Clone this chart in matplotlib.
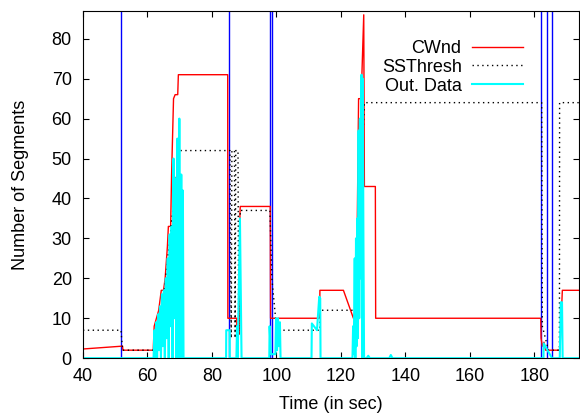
import matplotlib
matplotlib.use('Agg')
import matplotlib.pyplot as plt

# congestion window (segments) vs time (s)
cwnd_t = [40, 52, 52.3, 52.4, 61.8, 62.1, 63.5, 64.3, 65, 65.5, 66.2, 66.5, 67.2, 67.5,
          68.1, 68.6, 69.4, 69.6, 84.9, 84.95, 87.7, 87.8, 88.5, 88.7, 88.8, 98.1, 98.2,
          99.8, 100.1, 100.5, 113.4, 113.5, 120.8, 123.9, 124.5, 125, 125.5, 126.3,
          127.1, 127.3, 130.7, 130.8, 182, 182.1, 182.5, 183, 183.5, 187.8, 188, 188.7, 195]
cwnd_v = [2.3, 3.0, 3, 2, 2, 8, 12, 17, 17, 20, 28, 33, 33, 46,
          65, 66, 66, 71, 71, 10, 10, 6, 6, 36, 38, 38, 10,
          10, 7, 10, 10, 17, 17, 10, 12, 27, 65, 65,
          86, 43, 43, 10, 10, 5, 3, 4, 2, 2, 3, 17, 17]

ssth_t = [40, 51.8, 52.3, 61.8, 64.5, 69.3, 69.8, 85.6, 86.0, 86.2, 87.0, 87.2, 87.4,
          88.1, 88.3, 88.8, 98.0, 98.6, 100.1, 113.5, 113.6, 123.9, 124.5, 127.3,
          182.3, 182.5, 184.4, 187.8, 187.85, 195]
ssth_v = [7, 7, 2, 2, 11, 48, 52, 52, 5, 52, 52, 5, 52,
          52, 6, 37, 37, 20, 7, 7, 12, 12, 12, 64,
          64, 8, 2, 2, 64, 64]

# outstanding data, one row per burst
out_t = [40, 61.9,
         62.2, 62.4, 62.7, 63.0, 63.3, 63.6, 63.9, 64.2, 64.5, 64.8, 65.1, 65.4,
         65.7, 66.0, 66.3, 66.6, 66.9, 67.2, 67.5, 67.8, 68.1, 68.4, 68.7, 69.0,
         69.3, 69.6, 69.9, 70.2, 70.5, 70.8, 71.0, 71.2,
         84.4, 84.45, 85.5, 85.55,
         87.6, 87.8, 88.0, 88.7, 89.2,
         97.8, 97.9, 98.3, 98.5, 99.7, 99.9, 100.2, 100.5, 100.8, 101.1, 101.3,
         110.9, 111.0, 112.6, 113.3, 113.6, 113.7,
         123.6, 123.8, 124.0, 124.3, 124.5, 124.7, 124.9, 125.1, 125.3, 125.5,
         125.7, 125.9, 126.1, 126.4, 126.6, 126.8, 127.0, 127.2,
         128, 128.5, 129, 135, 135.5, 136,
         182.85, 182.9, 185.5,
         187.9, 188.2, 188.6, 188.8, 195]
out_v = [0, 0,
         7, 0, 9, 0, 11, 2, 13, 0, 16, 3, 17, 0,
         20, 5, 25, 0, 31, 8, 33, 0, 50, 10, 45, 0,
         55, 0, 60, 0, 46, 0, 42, 0,
         0, 7, 7, 0,
         0, 8, 0, 35, 0,
         0, 8, 1, 1, 1, 10, 2, 10, 3, 9, 0,
         0, 8.7, 7, 15.4, 15, 0,
         0, 8, 1, 25, 0, 30, 3, 35, 5, 57,
         10, 60, 20, 71, 0, 70, 30, 0,
         0, 0.6, 0, 0, 0.8, 0,
         0, 3.7, 0,
         0, 14, 14, 0, 0]

# retransmission timeout events
events = [51.8, 85.4, 98.0, 98.5, 182.1, 183.8, 185.5]

plt.rcParams['font.family'] = ['Liberation Sans', 'DejaVu Sans']
plt.rcParams['font.size'] = 13

fig = plt.figure(figsize=(5.8, 4.16), dpi=100)
ax = fig.add_axes([0.143, 0.139, 0.856, 0.835])

for e in events:
    ax.axvline(e, color='#0000ff', lw=1, zorder=1)

ax.plot(cwnd_t, cwnd_v, color='#ff0000', lw=1, label='CWnd', zorder=2)
ax.plot(ssth_t, ssth_v, color='black', lw=1, ls=(0, (1, 2.5)), label='SSThresh', zorder=3)
ax.plot(out_t, out_v, color='#00ffff', lw=1.5, label='Out. Data', zorder=4)

for sp in ax.spines.values():
    sp.set_zorder(10)

ax.set_xlim(40, 194)
ax.set_ylim(0, 87)
ax.set_xticks(range(40, 181, 20))
ax.set_yticks(range(0, 81, 10))
ax.tick_params(direction='in', top=True, right=True, length=4.5, width=0.8)
ax.tick_params(axis='x', pad=7)
ax.tick_params(axis='y', pad=8)
ax.set_xlabel('Time (in sec)', labelpad=8)
ax.set_ylabel('Number of Segments', labelpad=16)

ax.legend(loc='upper right', bbox_to_anchor=(523 / 580, 1 - 40 / 416),
          bbox_transform=fig.transFigure, frameon=False, markerfirst=False,
          handlelength=2.8, handletextpad=0.6, labelspacing=0.1,
          borderpad=0, borderaxespad=0)

fig.savefig('out.png', dpi=100)
